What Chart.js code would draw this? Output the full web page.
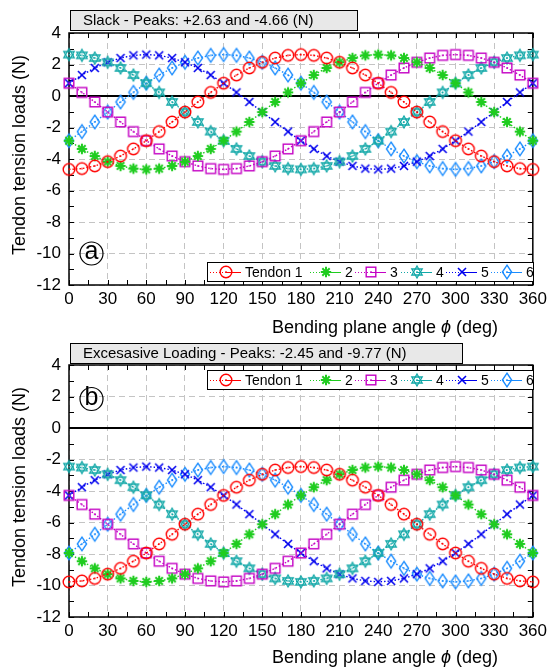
<!DOCTYPE html>
<html>
<head>
<meta charset="utf-8">
<script src="https://cdn.jsdelivr.net/npm/chart.js@4.4.1/dist/chart.umd.min.js"></script>
<style>
  body { margin: 0; background: #fff; }
  .panel { position: absolute; left: 0; width: 551px; }
</style>
</head>
<body>
<div class="panel" style="top:0;height:345px"><canvas id="grafA"></canvas></div>
<div class="panel" style="top:334px;height:335px"><canvas id="grafB"></canvas></div>
<script>
// Úhly ohybové roviny (deg)
const uhly = [0,10,20,30,40,50,60,70,80,90,100,110,120,130,140,150,160,170,180,
  190,200,210,220,230,240,250,260,270,280,290,300,310,320,330,340,350,360];

// (a) Slack
const slack1 = [-4.66,-4.61,-4.44,-4.17,-3.81,-3.36,-2.84,-2.26,-1.65,-1.02,-0.38,0.23,0.81,1.33,1.78,2.14,2.41,2.58,2.63,2.58,2.41,2.14,1.78,1.33,0.81,0.23,-0.38,-1.02,-1.65,-2.26,-2.84,-3.36,-3.81,-4.17,-4.44,-4.61,-4.66];
const slack2 = [-2.84,-3.36,-3.81,-4.17,-4.44,-4.61,-4.66,-4.61,-4.44,-4.17,-3.81,-3.36,-2.84,-2.26,-1.65,-1.02,-0.38,0.23,0.81,1.33,1.78,2.14,2.41,2.58,2.63,2.58,2.41,2.14,1.78,1.33,0.81,0.23,-0.38,-1.02,-1.65,-2.26,-2.84];
const slack3 = [0.81,0.23,-0.38,-1.02,-1.65,-2.26,-2.84,-3.36,-3.81,-4.17,-4.44,-4.61,-4.66,-4.61,-4.44,-4.17,-3.81,-3.36,-2.84,-2.26,-1.65,-1.02,-0.38,0.23,0.81,1.33,1.78,2.14,2.41,2.58,2.63,2.58,2.41,2.14,1.78,1.33,0.81];
const slack4 = [2.63,2.58,2.41,2.14,1.78,1.33,0.81,0.23,-0.38,-1.02,-1.65,-2.26,-2.84,-3.36,-3.81,-4.17,-4.44,-4.61,-4.66,-4.61,-4.44,-4.17,-3.81,-3.36,-2.84,-2.26,-1.65,-1.02,-0.38,0.23,0.81,1.33,1.78,2.14,2.41,2.58,2.63];
const slack5 = [0.81,1.33,1.78,2.14,2.41,2.58,2.63,2.58,2.41,2.14,1.78,1.33,0.81,0.23,-0.38,-1.02,-1.65,-2.26,-2.84,-3.36,-3.81,-4.17,-4.44,-4.61,-4.66,-4.61,-4.44,-4.17,-3.81,-3.36,-2.84,-2.26,-1.65,-1.02,-0.38,0.23,0.81];
const slack6 = [-2.84,-2.26,-1.65,-1.02,-0.38,0.23,0.81,1.33,1.78,2.14,2.41,2.58,2.63,2.58,2.41,2.14,1.78,1.33,0.81,0.23,-0.38,-1.02,-1.65,-2.26,-2.84,-3.36,-3.81,-4.17,-4.44,-4.61,-4.66,-4.61,-4.44,-4.17,-3.81,-3.36,-2.84];

// (b) Excessive loading
const pretiz1 = [-9.77,-9.71,-9.55,-9.28,-8.91,-8.46,-7.94,-7.36,-6.75,-6.11,-5.47,-4.86,-4.28,-3.76,-3.31,-2.94,-2.67,-2.51,-2.45,-2.51,-2.67,-2.94,-3.31,-3.76,-4.28,-4.86,-5.47,-6.11,-6.75,-7.36,-7.94,-8.46,-8.91,-9.28,-9.55,-9.71,-9.77];
const pretiz2 = [-7.94,-8.46,-8.91,-9.28,-9.55,-9.71,-9.77,-9.71,-9.55,-9.28,-8.91,-8.46,-7.94,-7.36,-6.75,-6.11,-5.47,-4.86,-4.28,-3.76,-3.31,-2.94,-2.67,-2.51,-2.45,-2.51,-2.67,-2.94,-3.31,-3.76,-4.28,-4.86,-5.47,-6.11,-6.75,-7.36,-7.94];
const pretiz3 = [-4.28,-4.86,-5.47,-6.11,-6.75,-7.36,-7.94,-8.46,-8.91,-9.28,-9.55,-9.71,-9.77,-9.71,-9.55,-9.28,-8.91,-8.46,-7.94,-7.36,-6.75,-6.11,-5.47,-4.86,-4.28,-3.76,-3.31,-2.94,-2.67,-2.51,-2.45,-2.51,-2.67,-2.94,-3.31,-3.76,-4.28];
const pretiz4 = [-2.45,-2.51,-2.67,-2.94,-3.31,-3.76,-4.28,-4.86,-5.47,-6.11,-6.75,-7.36,-7.94,-8.46,-8.91,-9.28,-9.55,-9.71,-9.77,-9.71,-9.55,-9.28,-8.91,-8.46,-7.94,-7.36,-6.75,-6.11,-5.47,-4.86,-4.28,-3.76,-3.31,-2.94,-2.67,-2.51,-2.45];
const pretiz5 = [-4.28,-3.76,-3.31,-2.94,-2.67,-2.51,-2.45,-2.51,-2.67,-2.94,-3.31,-3.76,-4.28,-4.86,-5.47,-6.11,-6.75,-7.36,-7.94,-8.46,-8.91,-9.28,-9.55,-9.71,-9.77,-9.71,-9.55,-9.28,-8.91,-8.46,-7.94,-7.36,-6.75,-6.11,-5.47,-4.86,-4.28];
const pretiz6 = [-7.94,-7.36,-6.75,-6.11,-5.47,-4.86,-4.28,-3.76,-3.31,-2.94,-2.67,-2.51,-2.45,-2.51,-2.67,-2.94,-3.31,-3.76,-4.28,-4.86,-5.47,-6.11,-6.75,-7.36,-7.94,-8.46,-8.91,-9.28,-9.55,-9.71,-9.77,-9.71,-9.55,-9.28,-8.91,-8.46,-7.94];

const popisky = ['Tendon 1', '2', '3', '4', '5', '6'];
const barvy = ['#ff0000', '#1fcc1f', '#c400c4', '#12a8a8', '#0000ee', '#1a8cff'];

const FONT = '"Liberation Sans", Arial, Helvetica, sans-serif';

// --- Značky (vlastní pointStyle jako canvas) ---
function znacka(w, h, kresli) {
  const c = document.createElement('canvas');
  c.width = w; c.height = h;
  const g = c.getContext('2d');
  kresli(g, w / 2, h / 2);
  return c;
}
function tecka(g, cx, cy, barva) {
  g.fillStyle = barva;
  g.fillRect(cx - 0.75, cy - 0.75, 1.5, 1.5);
}
const znacky = [
  znacka(16, 16, (g, cx, cy) => {          // kruh
    g.strokeStyle = barvy[0]; g.lineWidth = 1.4;
    g.beginPath(); g.arc(cx, cy, 5.8, 0, Math.PI * 2); g.stroke();
    tecka(g, cx, cy, barvy[0]);
  }),
  znacka(16, 16, (g, cx, cy) => {          // hvězdička
    g.strokeStyle = barvy[1]; g.lineWidth = 2;
    g.beginPath();
    for (let k = 0; k < 4; k++) {
      const u = k * Math.PI / 4;
      g.moveTo(cx - 5.2 * Math.cos(u), cy - 5.2 * Math.sin(u));
      g.lineTo(cx + 5.2 * Math.cos(u), cy + 5.2 * Math.sin(u));
    }
    g.stroke();
  }),
  znacka(16, 16, (g, cx, cy) => {          // čtverec
    g.strokeStyle = barvy[2]; g.lineWidth = 1.4;
    g.strokeRect(cx - 4.8, cy - 4.8, 9.6, 9.6);
    tecka(g, cx, cy, barvy[2]);
  }),
  znacka(16, 16, (g, cx, cy) => {          // hexagram
    g.strokeStyle = barvy[3]; g.lineWidth = 1.3;
    for (const o of [-Math.PI / 2, Math.PI / 2]) {
      g.beginPath();
      for (let k = 0; k < 3; k++) {
        const u = o + k * 2 * Math.PI / 3;
        const px = cx + 6 * Math.cos(u), py = cy + 6 * Math.sin(u);
        if (k === 0) g.moveTo(px, py); else g.lineTo(px, py);
      }
      g.closePath(); g.stroke();
    }
    tecka(g, cx, cy, barvy[3]);
  }),
  znacka(14, 14, (g, cx, cy) => {          // křížek
    g.strokeStyle = barvy[4]; g.lineWidth = 1.6;
    g.beginPath();
    g.moveTo(cx - 4, cy - 4); g.lineTo(cx + 4, cy + 4);
    g.moveTo(cx + 4, cy - 4); g.lineTo(cx - 4, cy + 4);
    g.stroke();
  }),
  znacka(14, 18, (g, cx, cy) => {          // kosočtverec
    g.strokeStyle = barvy[5]; g.lineWidth = 1.4;
    g.beginPath();
    g.moveTo(cx, cy - 6.8); g.lineTo(cx + 4.6, cy); g.lineTo(cx, cy + 6.8); g.lineTo(cx - 4.6, cy);
    g.closePath(); g.stroke();
    tecka(g, cx, cy, barvy[5]);
  })
];

function datasety(serie) {
  return serie.map((hodnoty, i) => ({
    label: popisky[i],
    data: uhly.map((u, j) => ({ x: u, y: hodnoty[j] })),
    borderColor: barvy[i],
    borderWidth: 1.4,
    borderDash: [1.5, 2],
    pointStyle: znacky[i],
    pointRadius: 6,
    pointHoverRadius: 6,
    fill: false,
    tension: 0,
    clip: false
  }));
}

// --- Popisky, rámeček, legenda ---
function dekorace(nast) {
  return {
    id: 'dekorace',
    beforeDatasetsDraw(chart) {
      const { ctx, chartArea: a, scales: { x, y } } = chart;
      ctx.save();
      // nulová čára
      const y0 = Math.round(y.getPixelForValue(0));
      ctx.strokeStyle = '#000'; ctx.lineWidth = 2;
      ctx.beginPath(); ctx.moveTo(a.left, y0); ctx.lineTo(a.right, y0); ctx.stroke();
      // rámeček
      ctx.lineWidth = 1.5;
      ctx.strokeRect(a.left, a.top, a.right - a.left, a.bottom - a.top);
      // značky os dovnitř
      ctx.lineWidth = 1;
      ctx.beginPath();
      for (let u = 0; u <= 360; u += 15) {
        const px = Math.round(x.getPixelForValue(u)) + 0.5;
        ctx.moveTo(px, a.bottom); ctx.lineTo(px, a.bottom - 5);
        ctx.moveTo(px, a.top); ctx.lineTo(px, a.top + 5);
      }
      for (let v = -12; v <= 4; v += 1) {
        const py = Math.round(y.getPixelForValue(v)) + 0.5;
        ctx.moveTo(a.left, py); ctx.lineTo(a.left + 5, py);
        ctx.moveTo(a.right, py); ctx.lineTo(a.right - 5, py);
      }
      ctx.stroke();
      ctx.restore();
    },
    afterDatasetsDraw(chart) {
      const { ctx, chartArea: a } = chart;
      ctx.save();
      // titulek v šedém rámečku
      ctx.fillStyle = '#e8e8e8';
      ctx.fillRect(70, nast.titulekY, nast.titulekW, 20);
      ctx.strokeStyle = '#000'; ctx.lineWidth = 1;
      ctx.strokeRect(70.5, nast.titulekY + 0.5, nast.titulekW, 20);
      ctx.fillStyle = '#000';
      ctx.font = '15px ' + FONT;
      ctx.textBaseline = 'middle'; ctx.textAlign = 'left';
      ctx.fillText(nast.titulek, 83, nast.titulekY + 10.5);

      // osa y
      ctx.save();
      ctx.translate(20, (a.top + a.bottom) / 2 - 4);
      ctx.rotate(-Math.PI / 2);
      ctx.font = '18px ' + FONT;
      ctx.textAlign = 'center';
      ctx.fillText('Tendon tension loads (N)', 0, 0);
      ctx.restore();

      // osa x (s kurzívou phi)
      const casti = [['Bending plane angle ', '18px '], ['ϕ', 'italic 18px '], [' (deg)', '18px ']];
      let sirka = 0;
      for (const [t, f] of casti) { ctx.font = f + FONT; sirka += ctx.measureText(t).width; }
      let px = 385 - sirka / 2;
      ctx.textAlign = 'left';
      for (const [t, f] of casti) {
        ctx.font = f + FONT;
        ctx.fillText(t, px, nast.osaXY);
        px += ctx.measureText(t).width;
      }

      // písmeno v kroužku
      ctx.lineWidth = 1.2;
      ctx.beginPath(); ctx.arc(91.5, nast.pismenoY, 11.5, 0, Math.PI * 2); ctx.stroke();
      ctx.font = '25px ' + FONT;
      ctx.textAlign = 'center';
      ctx.fillText(nast.pismeno, 91.5, nast.pismenoY - 1);

      // legenda
      const ly = nast.legendaY;
      ctx.fillStyle = '#fff';
      ctx.fillRect(207, ly, 326, 19);
      ctx.strokeStyle = '#000'; ctx.lineWidth = 1;
      ctx.strokeRect(207.5, ly + 0.5, 326, 19);
      const labelX = [245, 345, 390, 436, 481, 526];
      const cy = ly + 10;
      ctx.font = '14px ' + FONT;
      ctx.textAlign = 'left';
      labelX.forEach((lx, i) => {
        const x1 = lx - 35, x2 = lx - 4, xm = (x1 + x2) / 2;
        ctx.strokeStyle = barvy[i];
        ctx.lineWidth = 1;
        ctx.setLineDash([1, 2]);
        ctx.beginPath(); ctx.moveTo(x1, cy + 0.5); ctx.lineTo(xm, cy + 0.5); ctx.stroke();
        ctx.setLineDash([]);
        ctx.beginPath(); ctx.moveTo(xm, cy + 0.5); ctx.lineTo(x2, cy + 0.5); ctx.stroke();
        const z = znacky[i];
        ctx.drawImage(z, Math.round(xm - z.width / 2), Math.round(cy - z.height / 2));
        ctx.fillStyle = '#000';
        ctx.fillText(popisky[i], lx, cy + 1);
      });
      ctx.restore();
    }
  };
}

function vykresliGraf(id, serie, nast) {
  return new Chart(document.getElementById(id).getContext('2d'), {
    type: 'line',
    data: { datasets: datasety(serie) },
    options: {
      responsive: true,
      maintainAspectRatio: false,
      animation: false,
      layout: { padding: { left: 0, right: 13, top: nast.top, bottom: 0 } },
      plugins: { legend: { display: false }, tooltip: { enabled: false } },
      scales: {
        x: {
          type: 'linear', min: 0, max: 360,
          ticks: { stepSize: 30, color: '#000', font: { family: FONT, size: 17 }, padding: 4, maxRotation: 0 },
          grid: { color: '#c4c4c4', lineWidth: 1, drawTicks: false },
          border: { display: false, dash: [6, 4] },
          afterFit(s) { s.height = nast.osaX; }
        },
        y: {
          min: -12, max: 4,
          ticks: { stepSize: 2, color: '#000', font: { family: FONT, size: 17 }, padding: 8 },
          grid: { color: '#c4c4c4', lineWidth: 1, drawTicks: false },
          border: { display: false, dash: [6, 4] },
          afterFit(s) { s.width = 69; }
        }
      }
    },
    plugins: [dekorace(nast)]
  });
}

vykresliGraf('grafA', [slack1, slack2, slack3, slack4, slack5, slack6], {
  top: 33, osaX: 60,
  titulek: 'Slack - Peaks: +2.63 and -4.66 (N)', titulekY: 10, titulekW: 287,
  osaXY: 328, pismeno: 'a', pismenoY: 253.5, legendaY: 262
});
vykresliGraf('grafB', [pretiz1, pretiz2, pretiz3, pretiz4, pretiz5, pretiz6], {
  top: 31, osaX: 52,
  titulek: 'Excesasive Loading - Peaks: -2.45 and -9.77 (N)', titulekY: 9, titulekW: 392,
  osaXY: 324, pismeno: 'b', pismenoY: 65, legendaY: 36
});
</script>
</body>
</html>
